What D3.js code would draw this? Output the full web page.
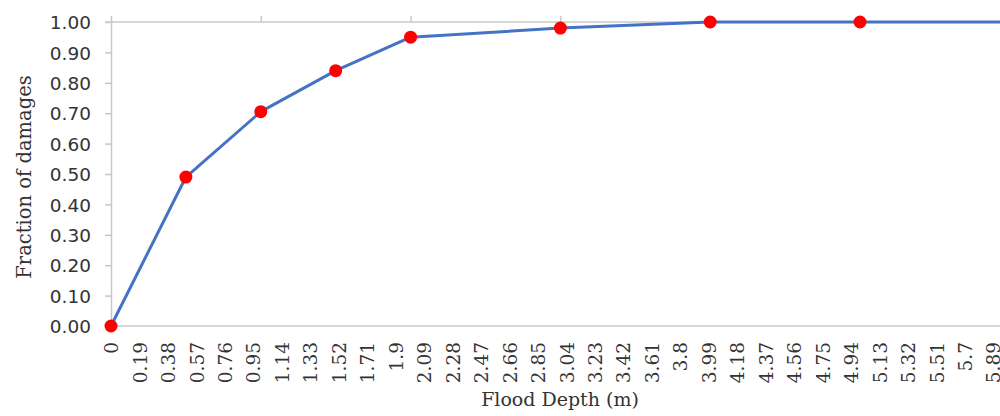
<!DOCTYPE html>
<html>
<head>
<meta charset="utf-8">
<script src="https://cdn.jsdelivr.net/npm/d3@7"></script>
<style>
  html, body { margin: 0; padding: 0; background: #fff; }
  svg { display: block; }
</style>
</head>
<body>
<svg id="chart" width="1000" height="416"></svg>
<script>
// ---- data ----
const depths = [0, 0.5, 1.0, 1.5, 2.0, 3.0, 4.0, 5.0, 6.0];
const fractions = [0, 0.49, 0.705, 0.84, 0.95, 0.98, 1.0, 1.0, 1.0];
const xTickValues = [0,0.19,0.38,0.57,0.76,0.95,1.14,1.33,1.52,1.71,1.9,2.09,2.28,2.47,2.66,2.85,3.04,3.23,3.42,3.61,3.8,3.99,4.18,4.37,4.56,4.75,4.94,5.13,5.32,5.51,5.7,5.89];
const xTickLabels = ["0","0.19","0.38","0.57","0.76","0.95","1.14","1.33","1.52","1.71","1.9","2.09","2.28","2.47","2.66","2.85","3.04","3.23","3.42","3.61","3.8","3.99","4.18","4.37","4.56","4.75","4.94","5.13","5.32","5.51","5.7","5.89"];
const topTickValues = [0, 1, 2, 3, 4, 5, 6];
const yTickValues = [0,0.1,0.2,0.3,0.4,0.5,0.6,0.7,0.8,0.9,1.0];
const xTitle = "Flood Depth (m)";
const yTitle = "Fraction of damages";

// ---- layout ----
const svg = d3.select("#chart");
const x = d3.scaleLinear().domain([0, 6]).range([111, 111 + 6 * 149.8]);
const y = d3.scaleLinear().domain([0, 1]).range([326, 22]);
const axisColor = "#c8c8c8";
const textColor = "#333333";

// bottom axis line (no ticks)
svg.append("line")
  .attr("x1", x(0)).attr("x2", 1000)
  .attr("y1", y(0)).attr("y2", y(0))
  .attr("stroke", axisColor).attr("stroke-width", 1.5);

// top line (gridline at 1.0) with upward ticks
const topAxis = svg.append("g")
  .attr("transform", `translate(0,${y(1)})`)
  .call(d3.axisTop(x).tickValues(topTickValues).tickSize(6).tickSizeOuter(0).tickFormat(""));
topAxis.select(".domain").remove();
topAxis.selectAll(".tick line").attr("stroke", axisColor).attr("stroke-width", 1.5);
svg.append("line")
  .attr("x1", x(0) - 6).attr("x2", 1000)
  .attr("y1", y(1)).attr("y2", y(1))
  .attr("stroke", axisColor).attr("stroke-width", 1.5);

// left axis
const leftAxis = svg.append("g")
  .attr("transform", `translate(${x(0)},0)`)
  .call(d3.axisLeft(y).tickValues(yTickValues).tickSize(6).tickSizeOuter(0).tickPadding(14)
    .tickFormat(d3.format(".2f")));
leftAxis.select(".domain").attr("stroke", axisColor).attr("stroke-width", 1.5);
leftAxis.selectAll(".tick line").attr("stroke", axisColor).attr("stroke-width", 1.5);
leftAxis.selectAll(".tick text")
  .attr("fill", textColor)
  .style("font-family", "'DejaVu Sans', sans-serif")
  .style("font-size", "18.5px")
  .attr("dy", "0.36em");

// bottom tick labels (rotated)
const bottomAxis = svg.append("g")
  .attr("transform", `translate(0,${y(0)})`)
  .call(d3.axisBottom(x).tickValues(xTickValues).tickSize(0)
    .tickFormat((d, i) => xTickLabels[i]));
bottomAxis.select(".domain").remove();
bottomAxis.selectAll(".tick text")
  .attr("fill", textColor)
  .style("font-family", "'DejaVu Serif', serif")
  .style("font-size", "18.5px")
  .attr("text-anchor", "end")
  .attr("transform", "rotate(-90)")
  .attr("x", -16)
  .attr("y", 0)
  .attr("dy", "0.36em");

// line
svg.append("path")
  .datum(depths.map((d, i) => [d, fractions[i]]))
  .attr("fill", "none")
  .attr("stroke", "#4472C4")
  .attr("stroke-width", 3)
  .attr("stroke-linejoin", "round")
  .attr("d", d3.line().x(d => x(d[0])).y(d => y(d[1])));

// markers
svg.append("g").selectAll("circle")
  .data(depths.map((d, i) => [d, fractions[i]]))
  .join("circle")
  .attr("cx", d => x(d[0]))
  .attr("cy", d => y(d[1]))
  .attr("r", 6.5)
  .attr("fill", "#FF0000");

// titles
svg.append("text")
  .attr("x", 560).attr("y", 406)
  .attr("text-anchor", "middle")
  .attr("fill", textColor)
  .style("font-family", "'DejaVu Serif', serif")
  .style("font-size", "19px")
  .text(xTitle);

svg.append("text")
  .attr("transform", "translate(31,177) rotate(-90)")
  .attr("text-anchor", "middle")
  .attr("fill", textColor)
  .style("font-family", "'DejaVu Serif', serif")
  .style("font-size", "19.5px")
  .text(yTitle);
</script>
</body>
</html>
